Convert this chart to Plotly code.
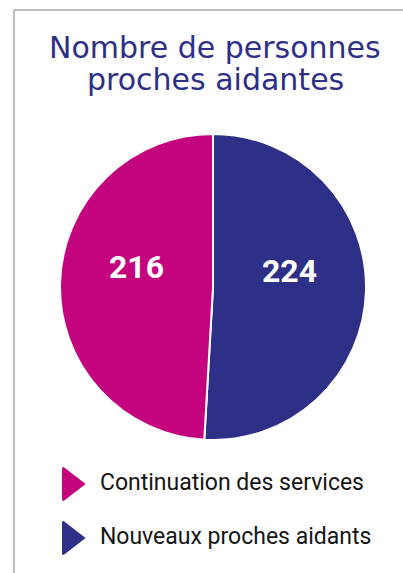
import plotly.graph_objects as go

categories = ["Continuation des services", "Nouveaux proches aidants"]
values = [216, 224]
colors = ["#C4037E", "#2E3087"]
title_lines = ["Nombre de personnes", "proches aidantes"]

W, H = 403, 573

fig = go.Figure()

# slices drawn clockwise from 12 o'clock, "Nouveaux" first so it sits on the right
fig.add_trace(go.Pie(
    labels=categories[::-1],
    values=values[::-1],
    marker=dict(colors=colors[::-1], line=dict(color="white", width=2)),
    sort=False,
    direction="clockwise",
    rotation=0,
    texttemplate="%{value}<br><span style='font-size:10px'> </span>",
    textposition="inside",
    insidetextorientation="horizontal",
    textfont=dict(family="Roboto", size=32, color="white", weight="bold"),
    domain=dict(x=[60 / W, 366 / W], y=[1 - 440 / H, 1 - 134 / H]),
    showlegend=False,
    hoverinfo="label+value",
))

# custom legend with triangle markers
fig.add_trace(go.Scatter(
    x=[0] * len(categories),
    y=categories,
    mode="markers+text",
    marker=dict(symbol="triangle-right", size=28, color=colors,
                line=dict(color=colors, width=2)),
    text=["  " + c for c in categories],
    textposition="middle right",
    textfont=dict(family="Roboto", size=23, color="#151515"),
    cliponaxis=False,
    showlegend=False,
    hoverinfo="skip",
))

title_y = [47, 79]
annotations = [
    dict(text=t, xref="paper", yref="paper", x=215 / W, y=1 - yy / H,
         xanchor="center", yanchor="middle", showarrow=False,
         font=dict(family="DejaVu Sans", size=30, color="#2E3087"))
    for t, yy in zip(title_lines, title_y)
]

fig.update_layout(
    width=W, height=H,
    margin=dict(l=0, r=0, t=0, b=0),
    paper_bgcolor="white",
    plot_bgcolor="rgba(0,0,0,0)",
    annotations=annotations,
    xaxis=dict(domain=[70 / W, 1], range=[0, 1], visible=False, fixedrange=True),
    yaxis=dict(domain=[1 - 565 / H, 1 - 457 / H], type="category",
               range=[1.5, -0.5], visible=False, fixedrange=True),
    shapes=[
        dict(type="line", xref="paper", yref="paper",
             x0=14 / W, x1=1, y0=1 - 10 / H, y1=1 - 10 / H,
             line=dict(color="#BDBDBD", width=2)),
        dict(type="line", xref="paper", yref="paper",
             x0=14 / W, x1=14 / W, y0=1 - 10 / H, y1=0,
             line=dict(color="#BDBDBD", width=2)),
    ],
)

fig.write_html("out.html", config={"displayModeBar": False},
               post_script="document.body.style.margin='0';")
